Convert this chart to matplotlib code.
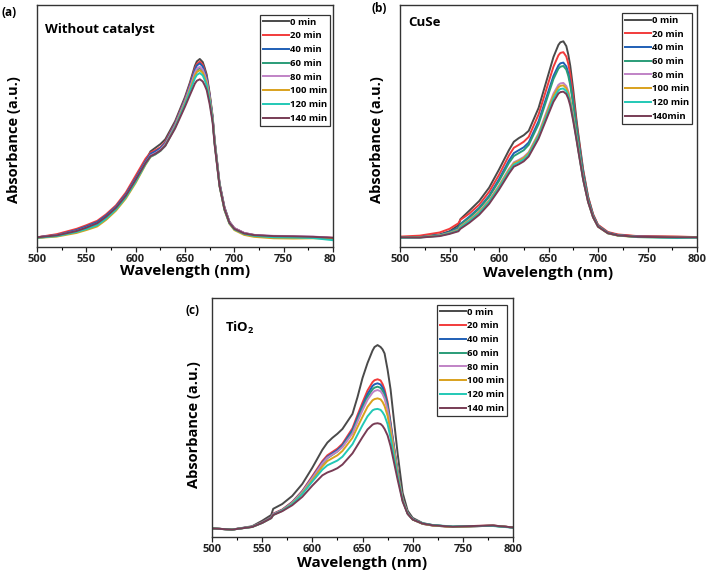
import numpy as np
import matplotlib.pyplot as plt
from matplotlib.patches import Rectangle

plt.rcParams['font.family'] = ['Open Sans', 'DejaVu Sans']
plt.rcParams['font.weight'] = 'bold'
plt.rcParams['mathtext.fontset'] = 'custom'
plt.rcParams['mathtext.rm'] = 'Open Sans:bold'
plt.rcParams['mathtext.bf'] = 'Open Sans:bold'

# wavelength grid (nm)
wl = [500, 520, 540, 550, 559, 561, 570, 580, 590, 600, 610, 615, 620, 625, 630,
      640, 645, 650, 655, 660, 662, 665, 668, 670, 672, 675, 678, 680, 685, 690,
      695, 700, 710, 720, 740, 760, 780, 800]

times_a = ['0 min', '20 min', '40 min', '60 min', '80 min', '100 min', '120 min', '140 min']
times_b = ['0 min', '20 min', '40 min', '60 min', '80 min', '100 min', '120 min', '140min']
colors = ['#4a4a4a', '#f23b3b', '#1f5fb5', '#2a9c78', '#c083c6', '#d9a11d', '#22c8b6', '#783c55']

# (a) without catalyst
a_0 = [.040, .050, .068, .082, .097, .100, .125, .160, .210, .280, .355, .395, .410, .425, .445,
       .520, .570, .620, .680, .748, .767, .777, .764, .740, .712, .635, .540, .445, .265, .165,
       .105, .078, .058, .050, .043, .040, .040, .037]
a_20 = [.040, .053, .075, .090, .105, .108, .135, .172, .225, .295, .365, .390, .400, .412, .435,
        .512, .562, .612, .672, .738, .756, .766, .753, .730, .703, .628, .535, .440, .262, .162,
        .103, .077, .057, .049, .043, .042, .041, .038]
a_40 = [.040, .049, .070, .085, .100, .103, .130, .167, .218, .285, .355, .385, .395, .408, .430,
        .508, .558, .608, .667, .732, .750, .759, .746, .724, .698, .625, .533, .438, .260, .160,
        .102, .076, .056, .048, .042, .041, .040, .037]
a_60 = [.038, .046, .063, .076, .090, .093, .120, .158, .210, .275, .345, .375, .385, .400, .422,
        .500, .549, .598, .655, .716, .732, .740, .728, .708, .683, .615, .528, .433, .256, .157,
        .100, .075, .055, .047, .041, .040, .039, .033]
a_80 = [.040, .048, .066, .080, .094, .097, .124, .162, .212, .278, .348, .378, .388, .402, .425,
        .503, .553, .603, .660, .720, .737, .745, .733, .712, .687, .618, .530, .435, .258, .159,
        .103, .078, .058, .050, .046, .045, .043, .038]
a_100 = [.037, .043, .058, .070, .082, .085, .112, .150, .200, .265, .340, .372, .383, .397, .420,
         .497, .546, .595, .650, .708, .723, .731, .720, .700, .676, .610, .526, .431, .252, .152,
         .096, .070, .050, .042, .036, .035, .036, .035]
a_120 = [.038, .045, .062, .074, .087, .090, .117, .155, .205, .270, .343, .373, .383, .397, .418,
         .495, .542, .590, .643, .697, .711, .719, .709, .690, .667, .604, .523, .429, .253, .154,
         .098, .073, .054, .046, .040, .039, .037, .028]
a_140 = [.040, .048, .066, .080, .095, .098, .125, .162, .212, .278, .347, .375, .385, .398, .418,
         .490, .535, .580, .628, .675, .687, .693, .684, .668, .648, .590, .515, .424, .252, .156,
         .100, .075, .056, .049, .045, .044, .042, .038]

# (b) CuSe
b_0 = [.041, .042, .052, .065, .090, .115, .150, .190, .245, .320, .400, .435, .450, .462, .480,
       .575, .645, .715, .785, .835, .846, .850, .830, .795, .748, .650, .535, .470, .320, .208,
       .135, .090, .060, .050, .044, .043, .042, .041]
b_20 = [.043, .047, .060, .075, .098, .112, .138, .175, .228, .298, .378, .410, .422, .435, .455,
        .548, .614, .680, .745, .792, .802, .805, .787, .757, .712, .622, .518, .458, .312, .205,
        .135, .092, .062, .052, .045, .044, .043, .041]
b_40 = [.040, .041, .050, .062, .080, .095, .125, .162, .212, .280, .357, .388, .400, .412, .432,
        .520, .582, .645, .707, .750, .759, .762, .746, .719, .678, .596, .502, .443, .302, .198,
        .130, .088, .059, .049, .043, .042, .041, .040]
b_60 = [.039, .040, .049, .060, .077, .092, .121, .158, .207, .273, .347, .376, .388, .400, .422,
        .508, .570, .632, .694, .737, .745, .748, .733, .707, .668, .588, .497, .438, .298, .196,
        .128, .087, .058, .048, .042, .041, .040, .040]
b_80 = [.039, .040, .048, .058, .072, .085, .112, .147, .193, .254, .322, .350, .360, .372, .392,
        .470, .525, .580, .634, .670, .676, .678, .665, .643, .610, .540, .462, .410, .283, .188,
        .124, .085, .057, .048, .042, .041, .040, .040]
b_100 = [.039, .040, .047, .057, .070, .083, .110, .144, .190, .250, .318, .346, .356, .368, .388,
         .465, .518, .572, .625, .660, .666, .668, .656, .635, .603, .535, .458, .406, .281, .187,
         .123, .084, .056, .047, .041, .040, .039, .040]
b_120 = [.038, .039, .046, .056, .068, .080, .107, .140, .186, .245, .312, .340, .350, .362, .382,
         .458, .510, .562, .613, .647, .653, .655, .644, .625, .594, .528, .454, .403, .280, .187,
         .124, .085, .057, .048, .041, .039, .037, .039]
b_140 = [.040, .039, .045, .054, .065, .075, .100, .133, .178, .237, .303, .332, .342, .354, .374,
         .448, .499, .550, .600, .634, .640, .642, .632, .613, .584, .520, .449, .399, .278, .186,
         .123, .084, .057, .048, .042, .041, .040, .040]

# (c) TiO2
c_0 = [.036, .031, .045, .068, .092, .118, .138, .172, .222, .290, .365, .395, .415, .432, .452,
       .515, .585, .665, .728, .780, .795, .803, .795, .785, .768, .700, .617, .540, .350, .185,
       .110, .080, .058, .050, .042, .045, .048, .040]
c_20 = [.036, .031, .043, .062, .083, .098, .115, .147, .193, .255, .318, .342, .356, .370, .390,
        .455, .510, .563, .613, .648, .656, .660, .655, .640, .618, .565, .480, .420, .275, .160,
        .100, .075, .056, .049, .043, .046, .048, .040]
c_40 = [.036, .031, .043, .061, .082, .096, .113, .145, .190, .250, .312, .336, .350, .364, .384,
        .447, .500, .550, .598, .632, .639, .643, .638, .625, .604, .553, .472, .414, .272, .158,
        .099, .074, .055, .048, .042, .045, .047, .040]
c_60 = [.036, .031, .043, .060, .081, .095, .112, .143, .188, .246, .306, .330, .344, .358, .378,
        .438, .490, .540, .586, .618, .625, .629, .624, .612, .592, .543, .465, .408, .270, .157,
        .099, .074, .056, .049, .043, .045, .047, .040]
c_80 = [.036, .031, .043, .060, .081, .095, .112, .143, .188, .247, .308, .332, .345, .358, .376,
        .433, .482, .530, .574, .604, .611, .615, .610, .598, .579, .532, .458, .402, .268, .157,
        .099, .074, .055, .048, .042, .045, .047, .040]
c_100 = [.036, .031, .042, .059, .079, .092, .110, .140, .183, .238, .295, .318, .330, .342, .360,
         .415, .460, .503, .545, .572, .577, .580, .576, .565, .548, .507, .440, .388, .262, .154,
         .098, .073, .055, .048, .042, .045, .047, .040]
c_120 = [.036, .031, .042, .059, .079, .092, .110, .138, .180, .232, .282, .300, .310, .320, .336,
         .388, .428, .468, .505, .530, .534, .536, .532, .522, .508, .472, .415, .368, .255, .152,
         .098, .074, .057, .050, .044, .046, .046, .039]
c_140 = [.036, .031, .042, .059, .079, .092, .108, .133, .168, .215, .258, .270, .278, .288, .303,
         .350, .384, .418, .450, .470, .474, .476, .473, .465, .452, .425, .380, .340, .240, .148,
         .096, .073, .056, .049, .043, .046, .048, .040]

W, H = 709, 578
fig = plt.figure(figsize=(W / 100, H / 100), dpi=100)


def px_axes(left, top, right, bottom):
    return fig.add_axes([left / W, 1 - bottom / H, (right - left) / W, (bottom - top) / H])


def draw_panel(ax, series, labels, title, title_xy, leg_anchor, ylab_x, ylab_y, xlab_y):
    for s, lab, c in zip(series, labels, colors):
        ax.plot(wl, s, color=c, lw=1.4, label=lab, solid_joinstyle='round')
    ax.set_xlim(500, 800)
    ax.set_ylim(0, 1)
    ax.set_yticks([])
    ax.set_xticks(np.arange(500, 801, 50))
    ax.set_xticks(np.arange(525, 800, 50), minor=True)
    ax.tick_params(axis='x', which='major', direction='out', length=3.5, width=0.9,
                   pad=1.5, labelsize=8, colors='#222222')
    ax.tick_params(axis='x', which='minor', direction='out', length=2, width=0.8)
    for sp in ax.spines.values():
        sp.set_linewidth(1.0)
        sp.set_color('#333333')
    ax.set_xlabel('Wavelength (nm)', fontsize=11, fontweight='bold')
    ax.set_ylabel('Absorbance (a.u.)', fontsize=10.5, fontweight='bold')
    ax.xaxis.set_label_coords(0.5, xlab_y)
    ax.yaxis.set_label_coords(ylab_x, ylab_y)
    ax.text(title_xy[0], title_xy[1], title, transform=ax.transAxes, fontsize=9.5,
            fontweight='bold', va='center', ha='left')
    leg = ax.legend(loc='upper right', bbox_to_anchor=leg_anchor, borderaxespad=0,
                    handlelength=2.7, handletextpad=0.12, labelspacing=0.5,
                    borderpad=0.3, fancybox=False, framealpha=1, edgecolor='#333333',
                    prop={'weight': 'bold', 'size': 6.8})
    leg.get_frame().set_linewidth(0.9)


ax_a = px_axes(37, 5, 333, 247)
draw_panel(ax_a, [a_0, a_20, a_40, a_60, a_80, a_100, a_120, a_140], times_a,
           'Without catalyst', (0.027, 0.897), (0.99, 0.959), -0.055, 0.446, -0.07)

ax_b = px_axes(400, 5, 697, 247)
draw_panel(ax_b, [b_0, b_20, b_40, b_60, b_80, b_100, b_120, b_140], times_b,
           'CuSe', (0.027, 0.926), (0.983, 0.967), -0.055, 0.446, -0.08)

ax_c = px_axes(212, 298, 513, 537)
draw_panel(ax_c, [c_0, c_20, c_40, c_60, c_80, c_100, c_120, c_140], times_a,
           'TiO$_2$', (0.043, 0.874), (0.98, 0.971), -0.035, 0.469, -0.08)

# panel letters
fig.text(2 / W, 1 - 12 / H, '(a)', fontsize=8.5, fontweight='bold', va='center', ha='left')
fig.text(372 / W, 1 - 9 / H, '(b)', fontsize=8.5, fontweight='bold', va='center', ha='left')
fig.text(185 / W, 1 - 310 / H, '(c)', fontsize=8.5, fontweight='bold', va='center', ha='left')

# the last tick label of (a) is cut by the neighbouring panel
fig.patches.append(Rectangle((336 / W, 1 - 266 / H), 20 / W, 16 / H, transform=fig.transFigure,
                             facecolor='white', edgecolor='none', zorder=10))

fig.savefig('out.png', dpi=100)
